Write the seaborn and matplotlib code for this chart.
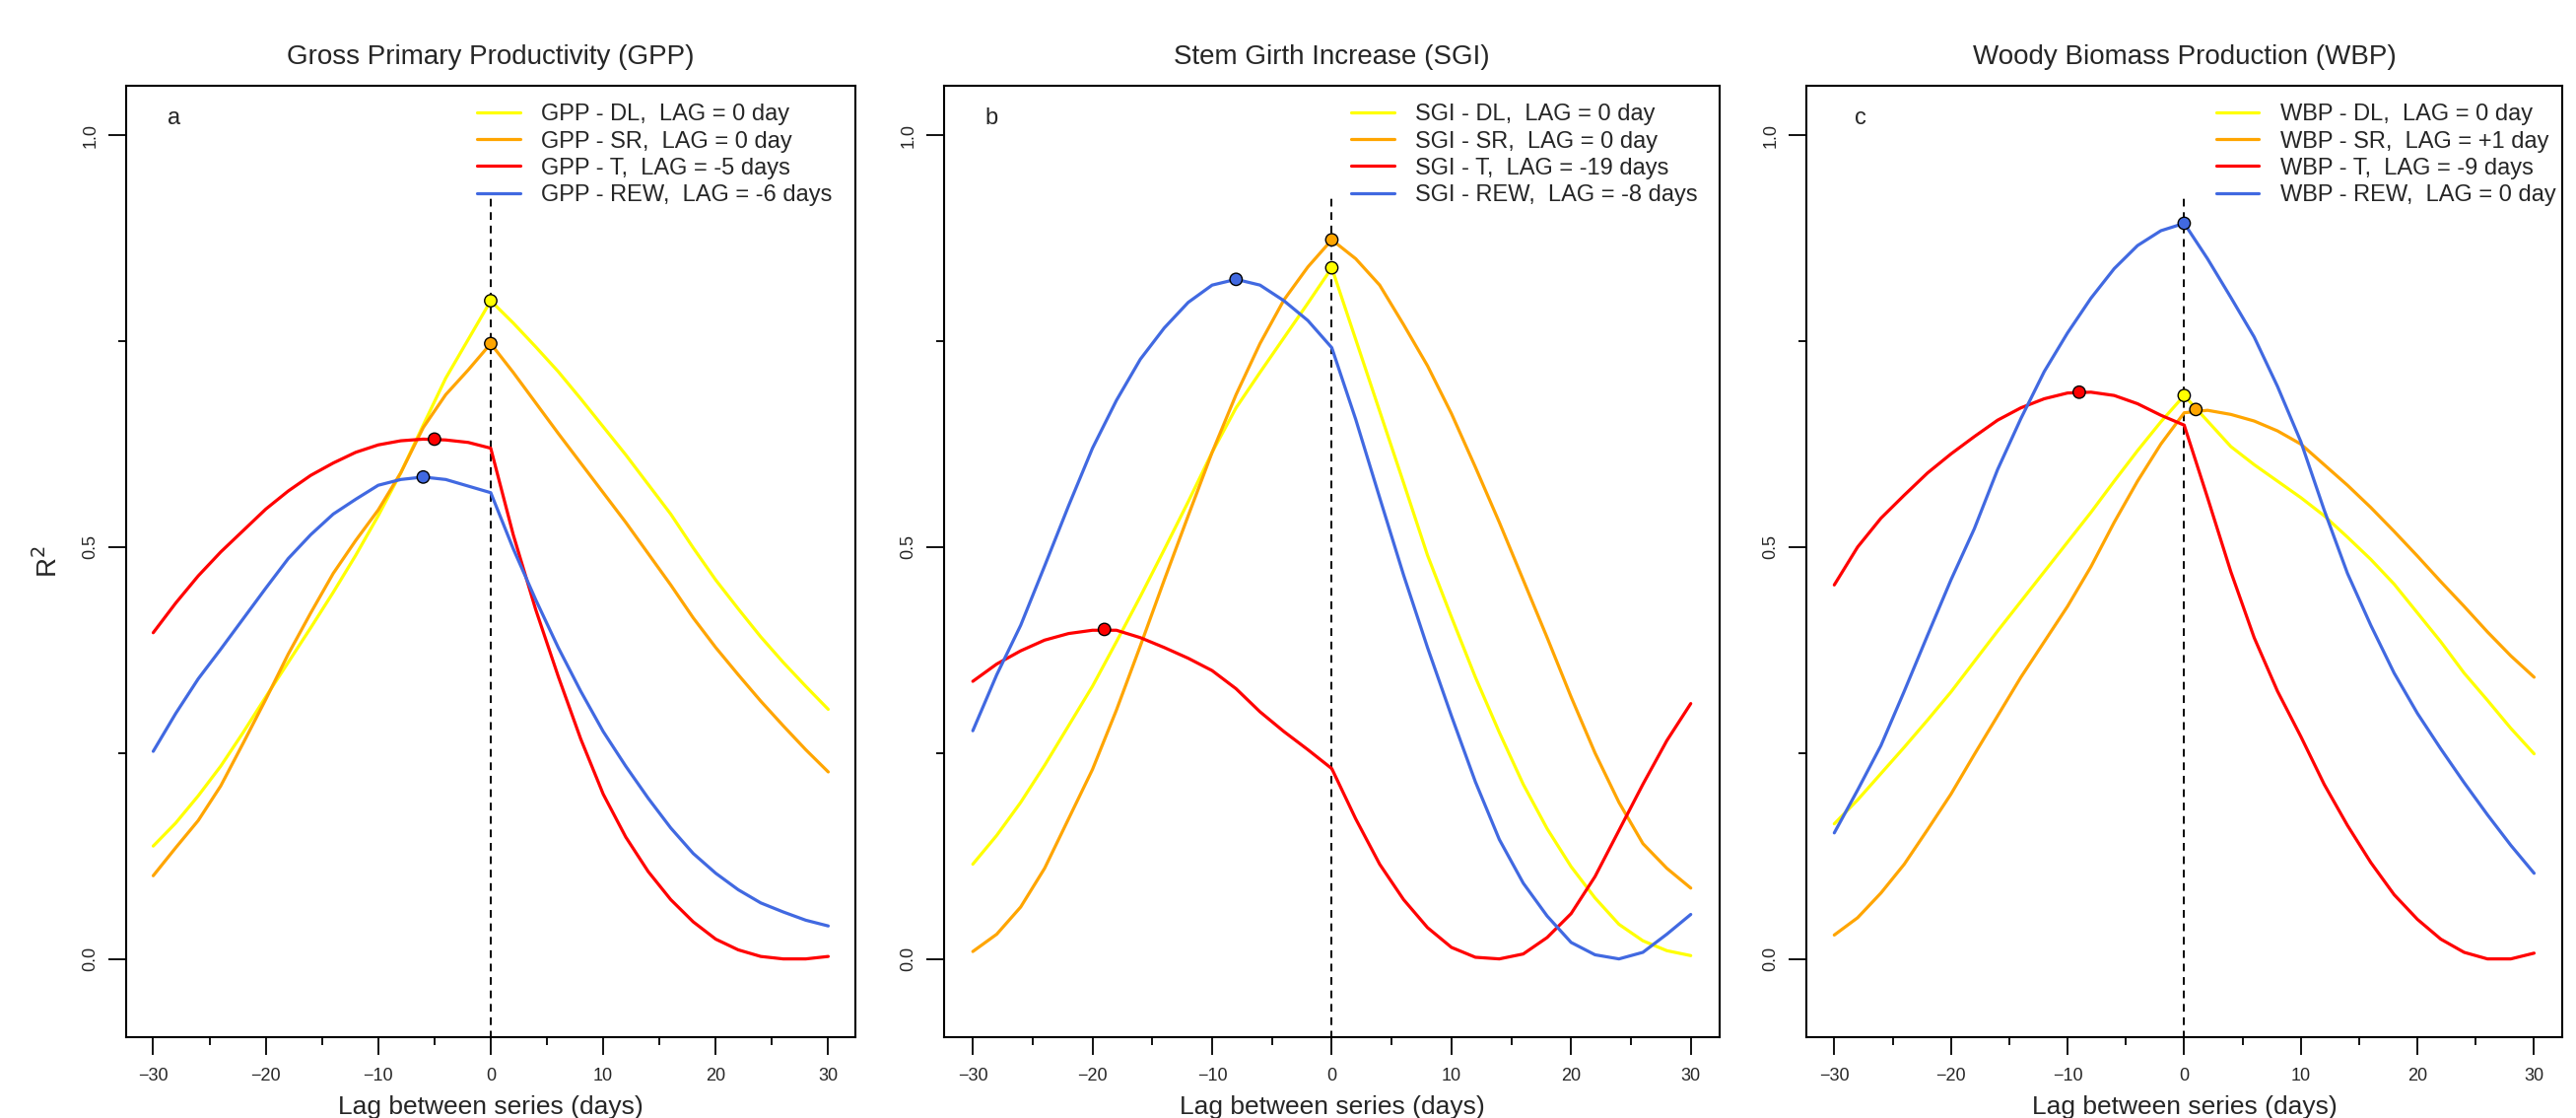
import numpy as np
import pandas as pd
import seaborn as sns
import matplotlib.pyplot as plt
from matplotlib.ticker import MultipleLocator

# lag grid (days) shared by all series
lags = list(range(-30, 31, 2))

# R2, panel a (GPP)
gpp_dl = [0.137, 0.165, 0.198, 0.234, 0.275, 0.318, 0.36, 0.402, 0.445, 0.49, 0.538,
          0.59, 0.648, 0.705, 0.752, 0.799, 0.772, 0.743, 0.713, 0.68, 0.646,
          0.612, 0.576, 0.54, 0.499, 0.46, 0.425, 0.391, 0.36, 0.331, 0.303]
gpp_sr = [0.101, 0.135, 0.168, 0.21, 0.262, 0.315, 0.37, 0.42, 0.468, 0.508, 0.545,
          0.59, 0.645, 0.685, 0.715, 0.747, 0.712, 0.675, 0.638, 0.602, 0.566,
          0.53, 0.492, 0.454, 0.414, 0.378, 0.345, 0.313, 0.283, 0.254, 0.227]
gpp_t = [0.396, 0.432, 0.465, 0.494, 0.52, 0.546, 0.568, 0.587, 0.602, 0.615, 0.624,
         0.629, 0.631, 0.63, 0.627, 0.62, 0.515, 0.424, 0.343, 0.267, 0.2,
         0.148, 0.106, 0.072, 0.045, 0.024, 0.011, 0.003, 0.0, 0.0, 0.003]
gpp_rew = [0.252, 0.298, 0.34, 0.376, 0.413, 0.45, 0.486, 0.515, 0.54, 0.558, 0.575,
           0.582, 0.585, 0.582, 0.574, 0.566, 0.498, 0.436, 0.378, 0.325, 0.276,
           0.234, 0.195, 0.159, 0.128, 0.104, 0.084, 0.068, 0.057, 0.047, 0.04]

# panel b (SGI)
sgi_dl = [0.115, 0.15, 0.19, 0.235, 0.283, 0.331, 0.385, 0.44, 0.497, 0.555, 0.615,
          0.669, 0.712, 0.754, 0.796, 0.839, 0.752, 0.665, 0.578, 0.49, 0.415,
          0.342, 0.275, 0.212, 0.158, 0.112, 0.074, 0.042, 0.022, 0.01, 0.004]
sgi_sr = [0.009, 0.03, 0.063, 0.11, 0.17, 0.23, 0.302, 0.38, 0.46, 0.538, 0.615,
          0.685, 0.747, 0.8, 0.84, 0.873, 0.85, 0.818, 0.77, 0.72, 0.662,
          0.597, 0.53, 0.46, 0.39, 0.318, 0.25, 0.19, 0.14, 0.11, 0.086]
sgi_t = [0.337, 0.358, 0.374, 0.387, 0.395, 0.399, 0.399, 0.39, 0.378, 0.365, 0.35,
         0.328, 0.3, 0.276, 0.254, 0.231, 0.17, 0.115, 0.072, 0.038, 0.014,
         0.002, 0.0, 0.006, 0.026, 0.055, 0.1, 0.156, 0.212, 0.265, 0.31]
sgi_rew = [0.277, 0.345, 0.405, 0.477, 0.55, 0.62, 0.678, 0.728, 0.766, 0.797, 0.818,
           0.825, 0.818, 0.799, 0.775, 0.742, 0.655, 0.56, 0.466, 0.378, 0.295,
           0.215, 0.145, 0.092, 0.052, 0.02, 0.005, 0.0, 0.008, 0.03, 0.054]

# panel c (WBP)
wbp_dl = [0.164, 0.193, 0.225, 0.257, 0.29, 0.324, 0.361, 0.398, 0.434, 0.47, 0.506,
          0.542, 0.58, 0.617, 0.652, 0.684, 0.653, 0.622, 0.6, 0.58, 0.56,
          0.538, 0.512, 0.485, 0.455, 0.42, 0.385, 0.347, 0.314, 0.28, 0.249]
wbp_sr = [0.029, 0.05, 0.08, 0.115, 0.157, 0.2, 0.248, 0.295, 0.342, 0.385, 0.428,
          0.476, 0.53, 0.58, 0.625, 0.663, 0.666, 0.661, 0.653, 0.641, 0.625,
          0.6, 0.575, 0.548, 0.519, 0.489, 0.458, 0.428, 0.397, 0.368, 0.342]
wbp_t = [0.454, 0.5, 0.535, 0.563, 0.59, 0.613, 0.634, 0.654, 0.669, 0.68, 0.687,
         0.688, 0.684, 0.674, 0.66, 0.648, 0.56, 0.47, 0.39, 0.325, 0.27,
         0.212, 0.162, 0.117, 0.078, 0.048, 0.024, 0.008, 0.0, 0.0, 0.007]
wbp_rew = [0.153, 0.205, 0.259, 0.325, 0.393, 0.46, 0.522, 0.594, 0.656, 0.713, 0.76,
           0.802, 0.838, 0.866, 0.884, 0.893, 0.85, 0.803, 0.755, 0.695, 0.628,
           0.545, 0.468, 0.405, 0.347, 0.298, 0.255, 0.214, 0.175, 0.138, 0.104]

# best lag (marked points) per series: DL, SR, T, REW
gpp_peak_lag = [0, 0, -5, -6]
gpp_peak_r2 = [0.799, 0.747, 0.631, 0.585]
sgi_peak_lag = [0, 0, -19, -8]
sgi_peak_r2 = [0.839, 0.873, 0.40, 0.825]
wbp_peak_lag = [0, 1, -9, 0]
wbp_peak_r2 = [0.684, 0.667, 0.688, 0.893]

gpp_labels = ['GPP - DL,  LAG = 0 day', 'GPP - SR,  LAG = 0 day',
              'GPP - T,  LAG = -5 days', 'GPP - REW,  LAG = -6 days']
sgi_labels = ['SGI - DL,  LAG = 0 day', 'SGI - SR,  LAG = 0 day',
              'SGI - T,  LAG = -19 days', 'SGI - REW,  LAG = -8 days']
wbp_labels = ['WBP - DL,  LAG = 0 day', 'WBP - SR,  LAG = +1 day',
              'WBP - T,  LAG = -9 days', 'WBP - REW,  LAG = 0 day']

titles = ['Gross Primary Productivity (GPP)', 'Stem Girth Increase (SGI)',
          'Woody Biomass Production (WBP)']
letters = ['a', 'b', 'c']
colors = ['#FFFF00', '#FFA500', '#FF0000', '#4169E1']
vline_top = 0.93

sns.set_style('white')
plt.rcParams['font.family'] = ['Liberation Sans', 'DejaVu Sans']

panels = [
    ([gpp_dl, gpp_sr, gpp_t, gpp_rew], gpp_peak_lag, gpp_peak_r2, gpp_labels),
    ([sgi_dl, sgi_sr, sgi_t, sgi_rew], sgi_peak_lag, sgi_peak_r2, sgi_labels),
    ([wbp_dl, wbp_sr, wbp_t, wbp_rew], wbp_peak_lag, wbp_peak_r2, wbp_labels),
]

# axes boxes in figure fraction: left, bottom, width, height
boxes = [(0.049, 0.0723, 0.283, 0.851),
         (0.3665, 0.0723, 0.301, 0.851),
         (0.7012, 0.0723, 0.2934, 0.851)]
legend_x = [0.481, 0.525, 0.542]
letter_x = [0.065, 0.061, 0.072]

fig = plt.figure(figsize=(26.14, 11.34), dpi=100)

for i, (series, pk_lag, pk_r2, labels) in enumerate(panels):
    ax = fig.add_axes(boxes[i])
    for vals, col, lab in zip(series, colors, labels):
        sns.lineplot(x=lags, y=vals, color=col, label=lab, linewidth=2.3, ax=ax)

    # dashed line at zero lag
    ax.vlines(0, -0.2, vline_top, colors='black', linestyles=(0, (4, 3)),
              linewidth=1.4, zorder=1)

    peaks = pd.DataFrame({'lag': pk_lag, 'r2': pk_r2, 'series': labels})
    sns.scatterplot(data=peaks, x='lag', y='r2', hue='series', palette=colors,
                    s=80, edgecolor='black', linewidth=1.0, legend=False,
                    zorder=5, ax=ax)

    ax.set_xlim(-32.4, 32.4)
    ax.set_ylim(-0.095, 1.06)
    ax.xaxis.set_major_locator(MultipleLocator(10))
    ax.xaxis.set_minor_locator(MultipleLocator(5))
    ax.yaxis.set_major_locator(MultipleLocator(0.5))
    ax.yaxis.set_minor_locator(MultipleLocator(0.25))
    ax.yaxis.set_major_formatter(plt.FormatStrFormatter('%.1f'))
    ax.tick_params(axis='both', which='both', bottom=True, left=True,
                   direction='out', color='black', width=1.3)
    ax.tick_params(axis='both', which='major', length=13, labelsize=13)
    ax.tick_params(axis='both', which='minor', length=6)
    ax.tick_params(axis='x', which='major', pad=9)
    ax.tick_params(axis='y', which='major', pad=7)
    for lab in ax.get_yticklabels():
        lab.set_rotation(90)
        lab.set_va('center')
    for sp in ax.spines.values():
        sp.set_visible(True)
        sp.set_color('black')
        sp.set_linewidth(1.5)

    ax.set_xlabel('Lag between series (days)', fontsize=19, labelpad=8)
    if i == 0:
        ax.set_ylabel('R$^2$', fontsize=20, labelpad=14)
    else:
        ax.set_ylabel('')
    ax.set_title(titles[i], fontsize=20, pad=16)
    ax.text(letter_x[i], 0.966, letters[i], transform=ax.transAxes,
            fontsize=17, ha='center', va='center')

    ax.legend(loc='upper left', bbox_to_anchor=(legend_x[i], 0.981),
              frameon=False, fontsize=17, borderpad=0, borderaxespad=0,
              handlelength=1.85, handletextpad=0.9, labelspacing=0.22)

fig.savefig('out.png', dpi=100)
